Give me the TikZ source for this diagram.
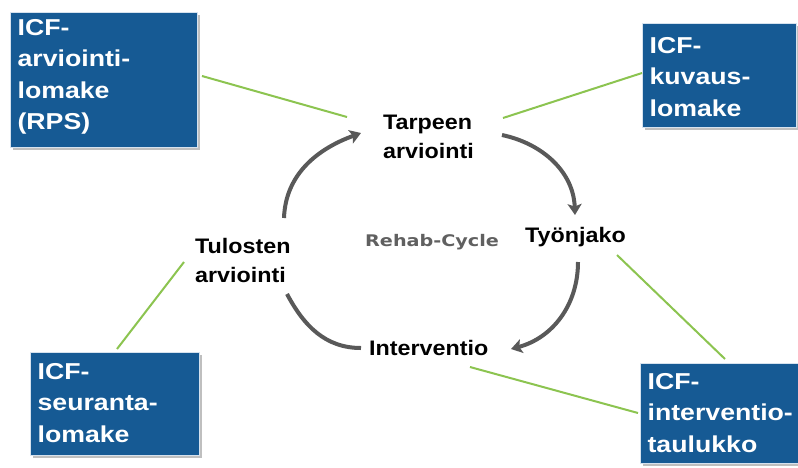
\documentclass[tikz,border=0pt]{standalone}
\usepackage{fontspec}
\setmainfont{Liberation Sans}[FakeStretch=1.11]
\newfontfamily\boxfont{Liberation Sans}[FakeStretch=1.16]
\newfontfamily\titlefont{DejaVu Sans}[FakeStretch=1.2]
\usetikzlibrary{arrows.meta,shadows}

\definecolor{boxblue}{RGB}{22,90,148}
\definecolor{boxedge}{RGB}{214,226,238}
\definecolor{linkgreen}{RGB}{140,196,80}
\definecolor{cyclegray}{RGB}{89,89,89}
\definecolor{titlegray}{RGB}{96,96,96}

\tikzset{
  icfbox/.style={fill=boxblue, draw=boxedge, line width=1.2pt, text=white,
    font=\boxfont\fontsize{23}{31.5}\selectfont\bfseries, align=left,
    anchor=north west, inner xsep=7pt, inner ysep=0pt,
    drop shadow={shadow xshift=2pt, shadow yshift=-2pt, opacity=0.25, fill=black}},
  phase/.style={font=\fontsize{21}{28.5}\selectfont\bfseries, align=left,
    inner sep=0pt, anchor=base west, text=black},
  cyclearrow/.style={draw=cyclegray, line width=4pt,
    -{Stealth[length=11pt,width=14pt,inset=2.5pt]}},
  cycleline/.style={draw=cyclegray, line width=4pt},
  link/.style={draw=linkgreen, line width=2pt}
}

\begin{document}
\begin{tikzpicture}[x=1pt,y=-1pt]
\useasboundingbox (0,0) rectangle (798,467);
\fill[white] (0,0) rectangle (798,467);

% ICF forms
\node[icfbox, text width=173pt, minimum width=187pt, minimum height=135pt]
  (rps) at (10,12) {ICF-\\arviointi-\\lomake\\(RPS)\rule[-11pt]{0pt}{0pt}};
\node[icfbox, text width=140pt, minimum width=154pt, minimum height=104pt]
  (kuvaus) at (642,23) {\rule{0pt}{19pt}ICF-\\kuvaus-\\lomake};
\node[icfbox, text width=155pt, minimum width=169pt, minimum height=103pt]
  (seuranta) at (30,352) {ICF-\\seuranta-\\lomake\rule[-3pt]{0pt}{0pt}};
\node[icfbox, text width=146pt, minimum width=160pt, minimum height=100pt]
  (taulukko) at (640,363) {ICF-\\interventio-\\taulukko\rule[-2pt]{0pt}{0pt}};

% phases of the cycle
\node[phase] (tarve) at (383,158) {Tarpeen\\arviointi};
\node[phase] (tyonjako) at (525,242) {Työnjako};
\node[phase] (interv) at (369,355) {Interventio};
\node[phase] (tulos) at (195,282) {Tulosten\\arviointi};
\node[font=\titlefont\fontsize{16}{18}\selectfont\bfseries, text=titlegray,
  inner sep=0pt, anchor=base west] (title) at (365,246) {Rehab-Cycle};

% arc end points
\coordinate (a1s) at (284,218);  \coordinate (a1e) at (361,133);
\coordinate (a2s) at (502,135);  \coordinate (a2e) at (575,215);
\coordinate (a3s) at (578,262);  \coordinate (a3e) at (511,349);
\coordinate (a4s) at (287,294);  \coordinate (a4e) at (361,348);

\draw[cyclearrow] (a1s) to[out=88,in=200] (a1e);
\draw[cyclearrow] (a2s) to[out=-12,in=92] (a2e);
\draw[cyclearrow] (a3s) to[out=-90,in=15] (a3e);
\draw[cycleline]  (a4s) to[out=-62,in=180] (a4e);

% links from the forms to the phases
\coordinate (g1) at (347,117);
\coordinate (g2) at (503,118);
\coordinate (g3) at (184,262);
\coordinate (g4) at (617,255);
\coordinate (g5) at (470,367);
\coordinate (r1) at (202,76);
\coordinate (r2) at (642,73);
\coordinate (r3) at (117,349);
\coordinate (r4) at (725,359);
\coordinate (r5) at (638,413);
\draw[link] (r1) -- (g1);
\draw[link] (r2) -- (g2);
\draw[link] (r3) -- (g3);
\draw[link] (g4) -- (r4);
\draw[link] (g5) -- (r5);
\end{tikzpicture}
\end{document}
